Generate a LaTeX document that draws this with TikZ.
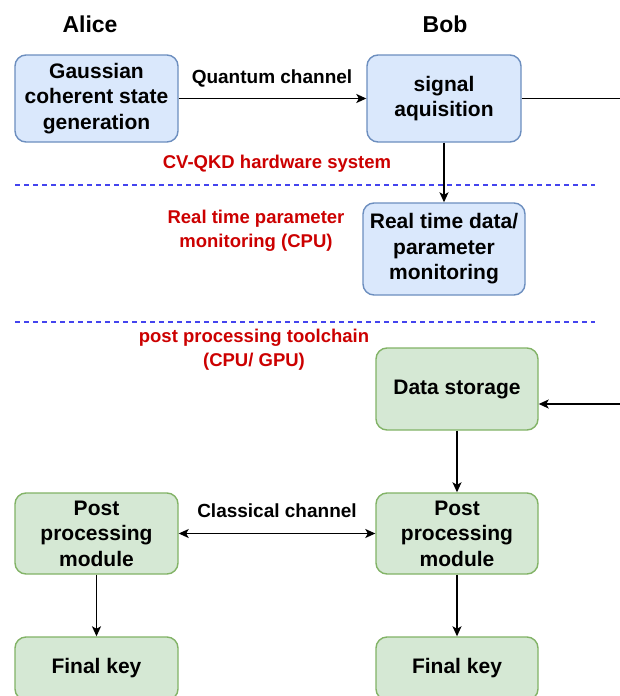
\documentclass[tikz,border=0pt]{standalone}
\usepackage{fontspec}
\setmainfont{Liberation Sans}
\usetikzlibrary{arrows.meta}
\definecolor{bluefill}{HTML}{DAE8FC}
\definecolor{bluedraw}{HTML}{6C8EBF}
\definecolor{greenfill}{HTML}{D5E8D4}
\definecolor{greendraw}{HTML}{82B366}
\definecolor{labelred}{HTML}{CC0000}
\definecolor{sepblue}{HTML}{4444EE}
\begin{document}
\begin{tikzpicture}[x=1pt,y=-1pt,
  box/.style={rounded corners=11pt, line width=1.4pt, align=center, inner sep=0pt,
    font=\fontsize{21}{25.5}\selectfont\bfseries},
  hwbox/.style={box, draw=bluedraw, fill=bluefill},
  ppbox/.style={box, draw=greendraw, fill=greenfill},
  arr/.style={line width=1.5pt, -{Stealth[length=10pt,width=9pt,inset=2.5pt]}},
  darr/.style={line width=1.5pt, {Stealth[length=10pt,width=9pt,inset=2.5pt]}-{Stealth[length=10pt,width=9pt,inset=2.5pt]}},
  party/.style={font=\fontsize{23}{27}\selectfont\bfseries},
  chan/.style={font=\fontsize{19}{22}\selectfont\bfseries},
  redlabel/.style={text=labelred, align=center, font=\fontsize{18.5}{24}\selectfont\bfseries},
  sep/.style={draw=sepblue, line width=1.3pt, dash pattern=on 5pt off 4pt}]
\useasboundingbox (0,0) rectangle (619,696);
\fill[white] (0,0) rectangle (619,696);

% party headings
\node[party] (alice) at (90,24) {Alice};
\node[party] (bob) at (445,24) {Bob};

% hardware part
\node[hwbox, minimum width=163pt, minimum height=87pt] (gen) at (96.5,98.5)
  {Gaussian\\coherent state\\generation};
\node[hwbox, minimum width=154pt, minimum height=87pt] (sig) at (444,98.5)
  {signal\\aquisition};
\node[hwbox, minimum width=162pt, minimum height=92pt] (mon) at (444,249)
  {Real time data/\\parameter\\monitoring};

% post processing part
\node[ppbox, minimum width=162pt, minimum height=82pt] (store) at (457,389)
  {Data storage};
\node[ppbox, minimum width=163pt, minimum height=81pt] (ppA) at (96.5,533.5)
  {Post\\processing\\module};
\node[ppbox, minimum width=162pt, minimum height=81pt] (ppB) at (457,533.5)
  {Post\\processing\\module};
\node[ppbox, minimum width=163pt, minimum height=63pt] (keyA) at (96.5,668.5)
  {Final key};
\node[ppbox, minimum width=162pt, minimum height=63pt] (keyB) at (457,668.5)
  {Final key};

% section labels and separators
\node[redlabel] (hwlabel) at (277,164) {CV-QKD hardware system};
\node[redlabel] (rtlabel) at (256,231) {Real time parameter\\monitoring (CPU)};
\node[redlabel] (pplabel) at (254,350) {post processing toolchain\\(CPU/ GPU)};
\coordinate (sepAl) at (15,185);
\coordinate (sepAr) at (595,185);
\coordinate (sepBl) at (15,322);
\coordinate (sepBr) at (595,322);
\draw[sep] (sepAl) -- (sepAr);
\draw[sep] (sepBl) -- (sepBr);

% connectors
\draw[arr] (gen) -- (sig);
\node[chan] (qlabel) at (272,78) {Quantum channel};
\draw[arr] (sig) -- (mon);
\coordinate (outR) at (640,98.5);
\coordinate (inR) at (640,404);
\draw[arr] (sig.east) -- (outR) -- (inR) -- (inR -| store.east);
\draw[arr] (store) -- (ppB);
\draw[darr] (ppA) -- (ppB);
\node[chan] (clabel) at (277,511) {Classical channel};
\draw[arr] (ppA) -- (keyA);
\draw[arr] (ppB) -- (keyB);
\end{tikzpicture}
\end{document}
